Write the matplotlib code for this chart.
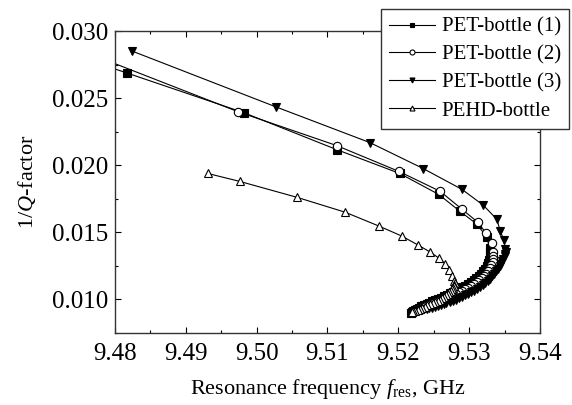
import matplotlib
matplotlib.use("Agg")
import matplotlib.pyplot as plt
from matplotlib.ticker import MultipleLocator, FormatStrFormatter

plt.rcParams["font.family"] = "Liberation Serif"
plt.rcParams["mathtext.fontset"] = "custom"
plt.rcParams["mathtext.rm"] = "Liberation Serif"
plt.rcParams["mathtext.it"] = "Liberation Serif:italic"

# PET-bottle (1), squares
pet1_f = [9.4765, 9.4817, 9.4982, 9.5113, 9.5202, 9.5257, 9.5287, 9.5311, 9.5325, 9.5329,
          9.5330, 9.5329, 9.5328, 9.5327, 9.5325, 9.5322, 9.5320, 9.5317, 9.5314, 9.5310,
          9.5307, 9.5303, 9.5299, 9.5294, 9.5290, 9.5286, 9.5282, 9.5277, 9.5273, 9.5269,
          9.5265, 9.5260, 9.5256, 9.5252, 9.5248, 9.5243, 9.5240, 9.5236, 9.5232, 9.5229,
          9.5226, 9.5224, 9.5221, 9.5219, 9.5218]
pet1_q = [0.0278, 0.02688, 0.02392, 0.02117, 0.01939, 0.01783, 0.01657, 0.01561, 0.01464, 0.01383,
          0.01353, 0.01323, 0.01297, 0.01272, 0.01250, 0.01227, 0.01208, 0.01190, 0.01175, 0.01160,
          0.01146, 0.01131, 0.01116, 0.01101, 0.01090, 0.01079, 0.01068, 0.01056, 0.01045, 0.01034,
          0.01023, 0.01012, 0.01004, 0.00997, 0.00986, 0.00975, 0.00968, 0.00960, 0.00949, 0.00938,
          0.00930, 0.00923, 0.00915, 0.00908, 0.00900]

# PET-bottle (2), open circles
pet2_f = [9.4765, 9.4974, 9.5113, 9.5201, 9.5259, 9.5290, 9.5312, 9.5324, 9.5332, 9.5334,
          9.5334, 9.5334, 9.5333, 9.5331, 9.5329, 9.5327, 9.5324, 9.5321, 9.5318, 9.5314,
          9.5311, 9.5307, 9.5303, 9.5298, 9.5294, 9.5290, 9.5286, 9.5281, 9.5277, 9.5273,
          9.5268, 9.5264, 9.5260, 9.5256, 9.5252, 9.5248, 9.5244, 9.5240, 9.5236, 9.5233,
          9.5230, 9.5228, 9.5226, 9.5224, 9.5222, 9.5221]
pet2_q = [0.0283, 0.02399, 0.02147, 0.01954, 0.01806, 0.01672, 0.01576, 0.01494, 0.01420, 0.01353,
          0.01327, 0.01301, 0.01279, 0.01257, 0.01235, 0.01212, 0.01193, 0.01175, 0.01160, 0.01145,
          0.01131, 0.01116, 0.01101, 0.01086, 0.01075, 0.01064, 0.01053, 0.01042, 0.01031, 0.01020,
          0.01012, 0.01004, 0.00997, 0.00990, 0.00982, 0.00975, 0.00967, 0.00960, 0.00952, 0.00945,
          0.00938, 0.00930, 0.00926, 0.00923, 0.00919, 0.00915]

# PET-bottle (3), filled down triangles
pet3_f = [9.4824, 9.5027, 9.5160, 9.5235, 9.5290, 9.5320, 9.5339, 9.5344, 9.5349, 9.5351,
          9.5352, 9.5351, 9.5350, 9.5348, 9.5347, 9.5345, 9.5343, 9.5341, 9.5338, 9.5335,
          9.5332, 9.5329, 9.5326, 9.5322, 9.5319, 9.5315, 9.5311, 9.5307, 9.5303, 9.5298,
          9.5294, 9.5290, 9.5286, 9.5281, 9.5277, 9.5273, 9.5268, 9.5264, 9.5260, 9.5256,
          9.5252, 9.5248, 9.5244, 9.5240, 9.5236, 9.5233, 9.5230, 9.5228, 9.5226, 9.5224,
          9.5222, 9.5221]
pet3_q = [0.02852, 0.02436, 0.02169, 0.01976, 0.01820, 0.01702, 0.01598, 0.01509, 0.01442, 0.01375,
          0.01357, 0.01338, 0.01320, 0.01301, 0.01283, 0.01264, 0.01246, 0.01227, 0.01208, 0.01190,
          0.01172, 0.01153, 0.01138, 0.01123, 0.01108, 0.01093, 0.01078, 0.01064, 0.01053, 0.01042,
          0.01031, 0.01020, 0.01008, 0.00997, 0.00990, 0.00982, 0.00975, 0.00967, 0.00960, 0.00953,
          0.00945, 0.00938, 0.00934, 0.00930, 0.00926, 0.00923, 0.00919, 0.00915, 0.00911, 0.00908,
          0.00904, 0.00900]

# PEHD-bottle, open up triangles
pehd_f = [9.4931, 9.4976, 9.5057, 9.5125, 9.5173, 9.5205, 9.5228, 9.5245, 9.5257, 9.5266,
          9.5272, 9.5276, 9.5279, 9.5280, 9.5279, 9.5278, 9.5277, 9.5276, 9.5274, 9.5272,
          9.5270, 9.5267, 9.5264, 9.5262, 9.5259, 9.5256, 9.5252, 9.5249, 9.5245, 9.5241,
          9.5238, 9.5234, 9.5231, 9.5228, 9.5224, 9.5221, 9.5219]
pehd_q = [0.01939, 0.01880, 0.01761, 0.01650, 0.01546, 0.01472, 0.01405, 0.01353, 0.01309, 0.01264,
          0.01220, 0.01175, 0.01138, 0.01122, 0.01108, 0.01097, 0.01086, 0.01075, 0.01064, 0.01053,
          0.01042, 0.01031, 0.01020, 0.01008, 0.00997, 0.00990, 0.00982, 0.00975, 0.00967, 0.00956,
          0.00945, 0.00938, 0.00930, 0.00923, 0.00915, 0.00911, 0.00908]

fig = plt.figure(figsize=(5.72, 4.05), dpi=100)
ax = fig.add_axes([0.201, 0.178, 0.743, 0.745])

kw = dict(color="black", lw=0.8, ms=6, mew=0.8)
ax.plot(pet1_f, pet1_q, marker="s", mfc="black", label="PET-bottle (1)", **kw)
ax.plot(pet2_f, pet2_q, marker="o", mfc="white", label="PET-bottle (2)", **kw)
ax.plot(pet3_f, pet3_q, marker="v", mfc="black", label="PET-bottle (3)", **kw)
ax.plot(pehd_f, pehd_q, marker="^", mfc="white", label="PEHD-bottle", **kw)

ax.set_xlim(9.48, 9.54)
ax.set_ylim(0.0075, 0.030)
ax.xaxis.set_major_locator(MultipleLocator(0.01))
ax.xaxis.set_minor_locator(MultipleLocator(0.005))
ax.yaxis.set_major_locator(MultipleLocator(0.005))
ax.yaxis.set_minor_locator(MultipleLocator(0.0025))
ax.xaxis.set_major_formatter(FormatStrFormatter("%.2f"))
ax.yaxis.set_major_formatter(FormatStrFormatter("%.3f"))
ax.tick_params(which="both", direction="in", top=True, right=True, labelsize=18, width=0.8)
ax.tick_params(which="major", length=4.5)
ax.tick_params(which="minor", length=2.5)
ax.tick_params(axis="x", which="major", pad=7)
ax.tick_params(axis="y", which="major", pad=5)
for s in ax.spines.values():
    s.set_linewidth(1.0)
    s.set_color("#333333")

ax.set_xlabel(r"Resonance frequency $f_{\mathrm{res}}$, GHz", fontsize=16, labelpad=9)
ax.set_ylabel(r"1/$Q$-factor", fontsize=16, labelpad=10)

leg = fig.legend(loc="upper right", bbox_to_anchor=(0.995, 0.978), fontsize=15,
                 frameon=True, fancybox=False, edgecolor="#333333", framealpha=1,
                 markerscale=0.6, handlelength=2.2, handletextpad=0.3,
                 labelspacing=0.4, borderpad=0.4, borderaxespad=0)
leg.get_frame().set_linewidth(1.0)

fig.savefig("out.png", dpi=100)
